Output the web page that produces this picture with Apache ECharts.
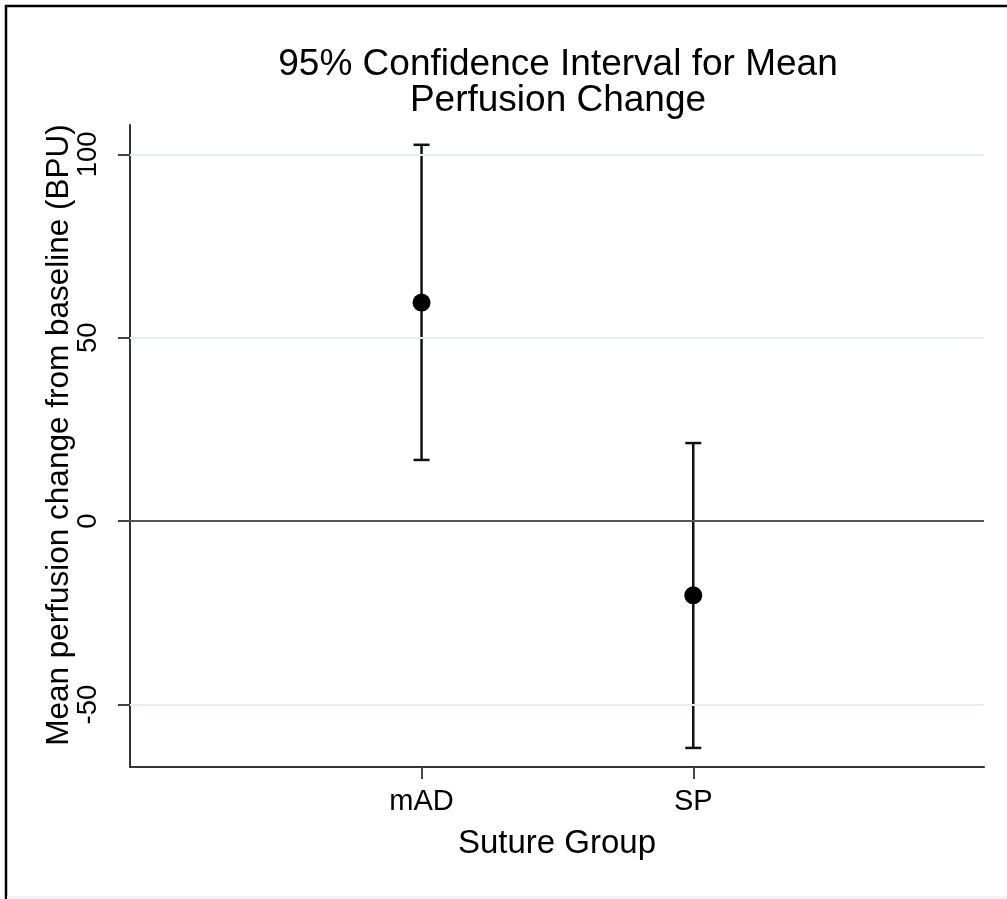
<!DOCTYPE html>
<html>
<head>
<meta charset="utf-8">
<script src="https://cdn.jsdelivr.net/npm/echarts@6/dist/echarts.min.js"></script>
<style>
  html, body { margin: 0; padding: 0; background: #ffffff; }
  #chart { width: 1007px; height: 899px; }
</style>
</head>
<body>
<div id="chart"></div>
<script>
// ---- data ----
const categories = ['mAD', 'SP'];
const xPositions = [1, 2];
const means = [59.6, -20.2];
const lowerCI = [16.7, -61.8];
const upperCI = [102.6, 21.3];
const yTicks = [-50, 0, 50, 100];
const gridValues = [-50, 50, 100];
const zeroLine = [0];

const FONT = "'Liberation Sans', Arial, Helvetica, sans-serif";

const ciData = xPositions.map((x, i) => [x, lowerCI[i], upperCI[i]]);
const meanData = xPositions.map((x, i) => [x, means[i]]);

const chart = echarts.init(document.getElementById('chart'), null, { renderer: 'canvas' });

chart.setOption({
  animation: false,
  backgroundColor: '#ffffff',
  title: {
    text: '95% Confidence Interval for Mean\nPerfusion Change',
    left: 553,
    top: 42,
    textAlign: 'center',
    textStyle: { fontFamily: FONT, fontSize: 37, fontWeight: 'normal', color: '#000', lineHeight: 36 }
  },
  graphic: [
    { type: 'line', shape: { x1: 5, y1: 6, x2: 1007, y2: 6 }, style: { stroke: '#000', lineWidth: 2.5 }, z: 100 },
    { type: 'line', shape: { x1: 6, y1: 5, x2: 6, y2: 899 }, style: { stroke: '#000', lineWidth: 2.5 }, z: 100 },
    { type: 'rect', shape: { x: 7, y: 896, width: 1000, height: 3 }, style: { fill: '#eef2f5' }, z: 100 }
  ],
  grid: { left: 130, right: 23, top: 125, bottom: 132, containLabel: false },
  xAxis: {
    type: 'value',
    min: -0.073,
    max: 3.07,
    name: 'Suture Group',
    nameLocation: 'middle',
    nameGap: 60,
    nameMoveOverlap: false,
    nameTextStyle: { fontFamily: FONT, fontSize: 33, color: '#000' },
    axisLine: { show: true, onZero: false, lineStyle: { color: '#333', width: 2 } },
    axisTick: { show: true, length: 12, customValues: xPositions, lineStyle: { color: '#444', width: 2 } },
    axisLabel: {
      customValues: xPositions,
      margin: 20,
      fontFamily: FONT, fontSize: 29, color: '#000',
      formatter: v => categories[xPositions.indexOf(v)] || ''
    },
    splitLine: { show: false }
  },
  yAxis: {
    type: 'value',
    min: -67,
    max: 108,
    name: 'Mean perfusion change from baseline (BPU)',
    nameLocation: 'middle',
    nameGap: 55,
    nameMoveOverlap: false,
    nameRotate: 90,
    nameTextStyle: { fontFamily: FONT, fontSize: 31.5, color: '#000', padding: [0, 0, 0, 22] },
    axisLine: { show: true, onZero: false, lineStyle: { color: '#333', width: 2 } },
    axisTick: { show: true, length: 12, customValues: yTicks, lineStyle: { color: '#444', width: 2 } },
    axisLabel: {
      customValues: yTicks,
      rotate: 90,
      margin: 28,
      fontFamily: FONT, fontSize: 27.5, color: '#000'
    },
    splitLine: { show: false }
  },
  series: [
    {
      name: 'grid',
      type: 'scatter',
      data: [],
      z: 1,
      silent: true,
      markLine: {
        silent: true,
        symbol: ['none', 'none'],
        label: { show: false },
        animation: false,
        data: gridValues.map(v => ({ yAxis: v, lineStyle: { color: '#e5eef1', width: 2, type: 'solid' } }))
          .concat(zeroLine.map(v => ({ yAxis: v, lineStyle: { color: '#555', width: 2, type: 'solid' } })))
      }
    },
    {
      name: 'CI',
      type: 'custom',
      z: 3,
      data: ciData,
      renderItem: function (params, api) {
        const x = api.value(0);
        const lo = api.coord([x, api.value(1)]);
        const hi = api.coord([x, api.value(2)]);
        const hw = 8;
        const st = { stroke: '#111', lineWidth: 2.5 };
        return {
          type: 'group',
          children: [
            { type: 'line', shape: { x1: hi[0], y1: hi[1], x2: lo[0], y2: lo[1] }, style: st },
            { type: 'line', shape: { x1: hi[0] - hw, y1: hi[1], x2: hi[0] + hw, y2: hi[1] }, style: st },
            { type: 'line', shape: { x1: lo[0] - hw, y1: lo[1], x2: lo[0] + hw, y2: lo[1] }, style: st }
          ]
        };
      }
    },
    {
      name: 'Mean',
      type: 'scatter',
      z: 4,
      data: meanData,
      symbol: 'circle',
      symbolSize: 18,
      itemStyle: { color: '#000', opacity: 1 }
    }
  ]
});
</script>
</body>
</html>
